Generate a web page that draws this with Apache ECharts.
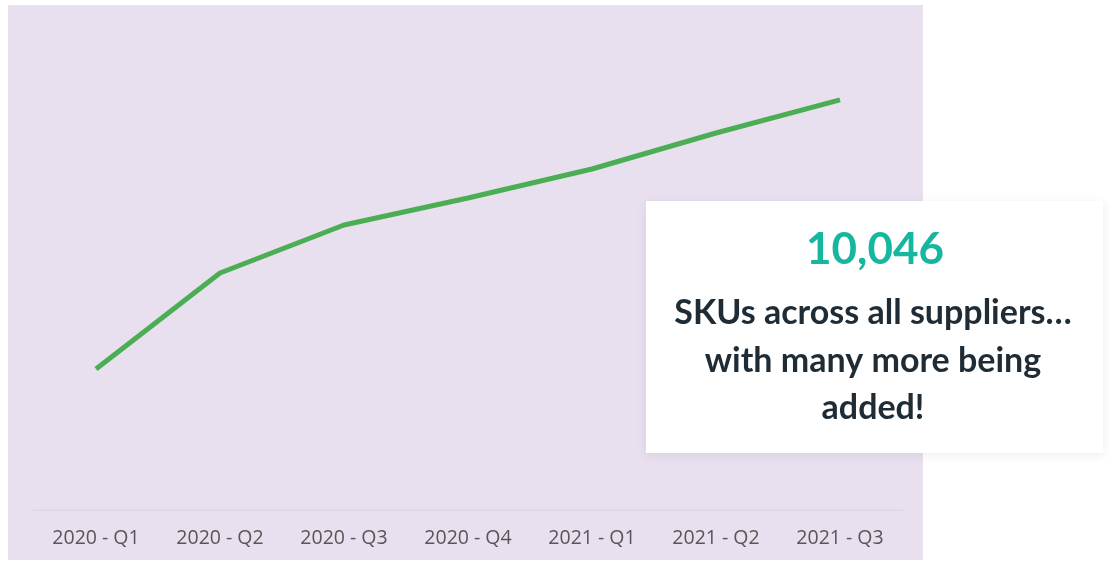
<!DOCTYPE html>
<html>
<head>
<meta charset="utf-8">
<script src="https://cdn.jsdelivr.net/npm/echarts@6/dist/echarts.min.js"></script>
<style>
html,body{margin:0;padding:0;background:#ffffff;}
#chart{width:1110px;height:563px;}
</style>
</head>
<body>
<div id="chart"></div>
<script>
var categories = ['2020 - Q1','2020 - Q2','2020 - Q3','2020 - Q4','2021 - Q1','2021 - Q2','2021 - Q3'];
var skuCounts = [3455, 5807, 6983, 7645, 8355, 9237, 10046];
var headline = '10,046';
var captionLines = ['SKUs across all suppliers…', 'with many more being', 'added!'];

var chart = echarts.init(document.getElementById('chart'), null, {renderer:'canvas'});
chart.setOption({
  backgroundColor: '#ffffff',
  animation: false,
  grid: {left: 34, right: 208, top: 20.2, bottom: 53},
  xAxis: {
    type: 'category',
    data: categories,
    boundaryGap: true,
    axisLine: {show: true, lineStyle: {color: '#e0d8e5', width: 2}},
    axisTick: {show: false},
    axisLabel: {color: '#575757', fontSize: 19.5, fontFamily: 'Open Sans', margin: 18}
  },
  yAxis: {
    type: 'value', min: 0, max: 12000,
    show: false,
    splitLine: {show: false}
  },
  graphic: [
    {type: 'rect', z: -10, shape: {x: 8, y: 5, width: 915, height: 555}, style: {fill: '#e8e0ee'}},
    {type: 'rect', z: 10, shape: {x: 646, y: 201, width: 457, height: 252},
      style: {fill: '#ffffff', shadowBlur: 10, shadowColor: 'rgba(0,0,0,0.08)', shadowOffsetX: 0, shadowOffsetY: 2}},
    {type: 'text', z: 11, x: 875, y: 250, style: {text: headline, fill: '#16b79e', font: 'bold 44px Lato', align: 'center', verticalAlign: 'middle'}},
    {type: 'text', z: 11, x: 873, y: 313, style: {text: captionLines[0], fill: '#1f2c35', font: 'bold 34px Lato', align: 'center', verticalAlign: 'middle'}},
    {type: 'text', z: 11, x: 873, y: 361, style: {text: captionLines[1], fill: '#1f2c35', font: 'bold 34px Lato', align: 'center', verticalAlign: 'middle'}},
    {type: 'text', z: 11, x: 873, y: 408, style: {text: captionLines[2], fill: '#1f2c35', font: 'bold 34px Lato', align: 'center', verticalAlign: 'middle'}}
  ],
  series: [{
    type: 'line',
    data: skuCounts,
    symbol: 'none',
    lineStyle: {color: '#4bae55', width: 5},
    z: 5
  }]
});
</script>
</body>
</html>
